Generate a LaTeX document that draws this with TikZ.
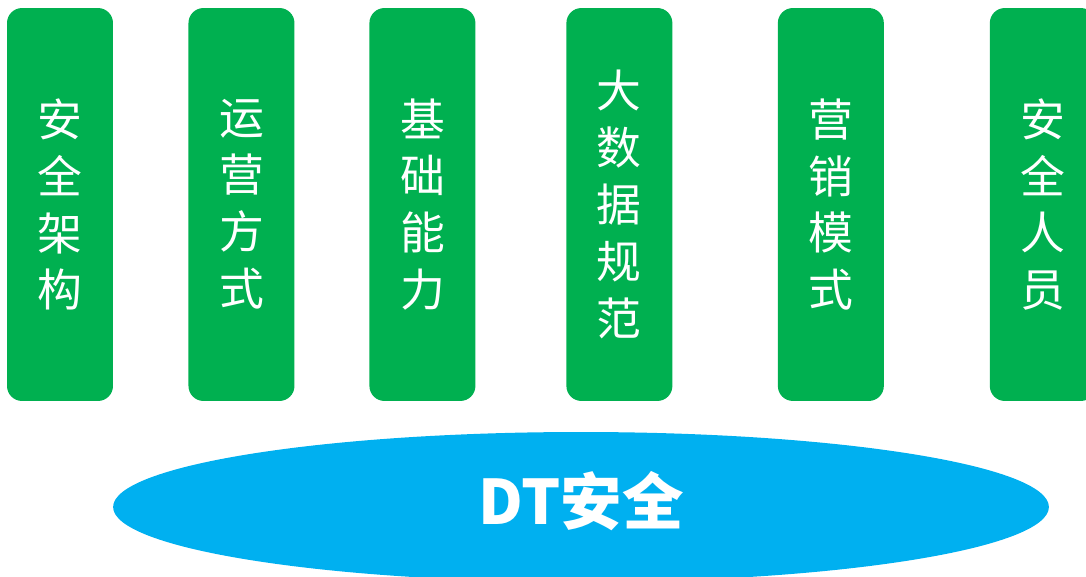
\documentclass[tikz,border=0pt]{standalone}
\usepackage{fontspec}
\usepackage{tikz}
\usepackage{xcolor}
\usetikzlibrary{shapes.geometric, positioning}
\newfontfamily\cjk{Noto Sans CJK SC}
\definecolor{PillarGreen}{HTML}{00B050}
\definecolor{BaseBlue}{HTML}{00B0F0}

\begin{document}
\begin{tikzpicture}[x=0.02cm, y=-0.02cm, node distance=3.6cm, on grid,
    pillar/.style={rectangle, rounded corners=0.3cm, fill=PillarGreen, text=white, inner sep=0pt, minimum width=2.12cm, minimum height=7.86cm, align=center, font=\cjk\fontsize{25.5}{32.4}\selectfont},
    base/.style={ellipse, fill=BaseBlue, text=white, inner sep=0pt, minimum width=18.72cm, minimum height=3cm, font=\cjk\bfseries\fontsize{35}{40}\selectfont}]

        \useasboundingbox (0,0) rectangle (1086,577);

        \node[pillar] (P1) at (60,204.5) {安\\全\\架\\构};
        \node[pillar, right=3.63cm of P1] (P2) {运\\营\\方\\式};
        \node[pillar, right=3.62cm of P2] (P3) {基\\础\\能\\力};
        \node[pillar, right=3.94cm of P3] (P4) {大\\数\\据\\规\\范};
        \node[pillar, right=4.23cm of P4] (P5) {营\\销\\模\\式};
        \node[pillar, right=4.24cm of P5] (P6) {安\\全\\人\\员};

        \node[base] (DT) at (581,507) {\raisebox{0.12cm}[\height][\depth]{DT安全}};

    \end{tikzpicture}
\end{document}
